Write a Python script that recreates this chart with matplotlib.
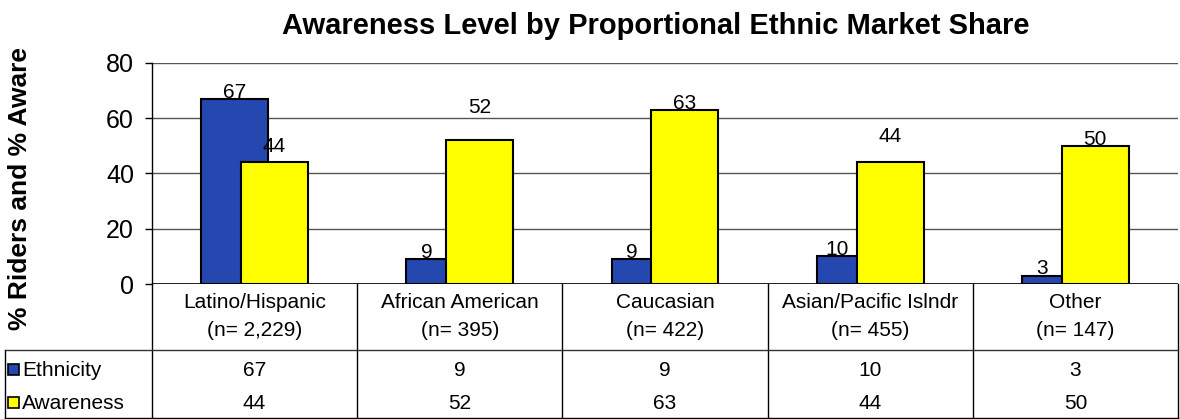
import matplotlib.pyplot as plt
from matplotlib.patches import Rectangle
import numpy as np

plt.rcParams['font.family'] = ['Liberation Sans', 'DejaVu Sans']

categories = ["Latino/Hispanic", "African American", "Caucasian", "Asian/Pacific Islndr", "Other"]
sample_sizes = ["2,229", "395", "422", "455", "147"]
ethnicity = [67, 9, 9, 10, 3]
awareness = [44, 52, 63, 44, 50]
series_names = ["Ethnicity", "Awareness"]
yticks = [0, 20, 40, 60, 80]

blue = '#2447b0'
yellow = '#ffff00'
# extra lift (points) of the yellow value labels, as placed in the original
yellow_pad = [7, 19, 0, 14, 0]

W, H = 1180, 419
fig = plt.figure(figsize=(W / 100, H / 100), dpi=100)

# pixel layout of the plot area
x0, x1 = 152, 1178
y_top, y_zero = 63, 284
ax = fig.add_axes([x0 / W, 1 - y_zero / H, (x1 - x0) / W, (y_zero - y_top) / H])

x = np.arange(len(categories))
width = 0.326
off = 0.097
b1 = ax.bar(x - off, ethnicity, width, color=blue, edgecolor='black', linewidth=1.5, zorder=3)
b2 = ax.bar(x + off, awareness, width, color=yellow, edgecolor='black', linewidth=1.5, zorder=4)
for i, r in enumerate(b1):
    # short blue bars: label over the part not hidden by the yellow bar
    lx = x[i] - off if ethnicity[i] > awareness[i] else x[i] - width / 2
    ax.annotate(f"{ethnicity[i]}", (lx, ethnicity[i]),
                xytext=(0, -2), textcoords='offset points', ha='center', va='bottom',
                fontsize=15, zorder=5)
for i, r in enumerate(b2):
    ax.annotate(f"{awareness[i]}", (x[i] + off, awareness[i]),
                xytext=(0, yellow_pad[i] - 2), textcoords='offset points', ha='center', va='bottom',
                fontsize=15, zorder=5)

ax.set_xlim(-0.5, len(categories) - 0.5)
ax.set_ylim(0, 80)
ax.set_yticks(yticks)
ax.tick_params(axis='y', labelsize=18, length=5, width=1, pad=8)
ax.set_xticks([])
ax.yaxis.grid(True, color='#555555', linewidth=1, zorder=0)
for s in ['top', 'right', 'bottom']:
    ax.spines[s].set_visible(False)
ax.spines['left'].set_linewidth(1)
ax.axhline(80, color='#444444', linewidth=1.2, zorder=1)
ax.axhline(0, color='black', linewidth=1.2, zorder=6)

fig.text(656 / W, 1 - 26 / H, "Awareness Level by Proportional Ethnic Market Share",
         ha='center', va='center', fontsize=21, fontweight='bold')
fig.text(20 / W, 1 - 188 / H, "% Riders and % Aware", rotation=90, ha='center', va='center',
         fontsize=19, fontweight='bold')

# data table under the chart, drawn in pixel coordinates
tb = fig.add_axes([0, 0, 1, 1])
tb.set_xlim(0, W)
tb.set_ylim(H, 0)
tb.axis('off')
cw = (x1 - x0) / len(categories)
edges = [x0 + i * cw for i in range(len(categories) + 1)]
for e in edges:
    tb.plot([e, e], [y_zero, 419], color='black', linewidth=1)
tb.plot([5, 5], [350, 419], color='black', linewidth=1)
tb.plot([5, x1], [350, 350], color='#333333', linewidth=1)
tb.plot([5, x1], [418, 418], color='black', linewidth=1)

for i, (c, n) in enumerate(zip(categories, sample_sizes)):
    cx = edges[i] + cw / 2
    tb.text(cx, 302, c, ha='center', va='center', fontsize=15)
    tb.text(cx, 330, f"(n= {n})", ha='center', va='center', fontsize=15)
    tb.text(cx, 370, f"{ethnicity[i]}", ha='center', va='center', fontsize=15)
    tb.text(cx, 403, f"{awareness[i]}", ha='center', va='center', fontsize=15)

for yy, name, col in zip([370, 403], series_names, [blue, yellow]):
    tb.add_patch(Rectangle((8, yy - 6), 11, 11, facecolor=col, edgecolor='black', linewidth=1.2))
    tb.text(22, yy, name, ha='left', va='center', fontsize=15)

fig.savefig('out.png', dpi=100)
